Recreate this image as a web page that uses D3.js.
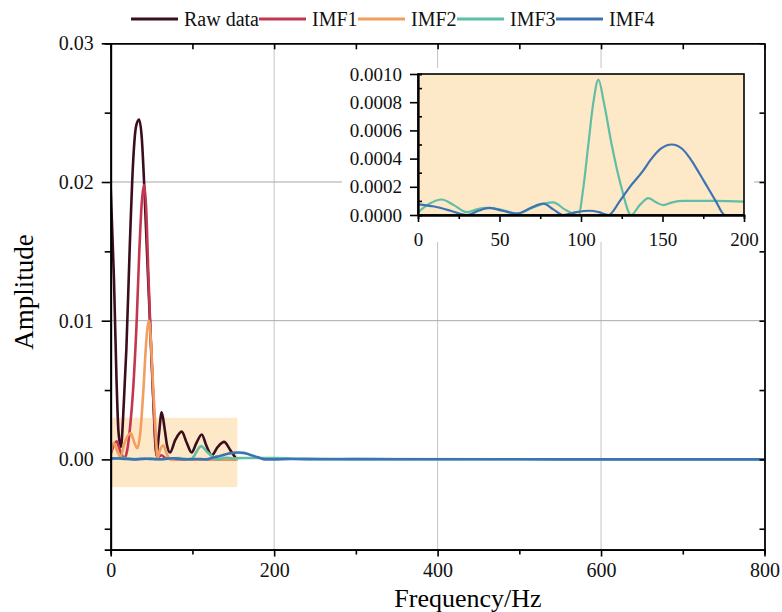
<!DOCTYPE html>
<html>
<head>
	<title> spectrum chart </title>
	<script src="https://d3js.org/d3.v7.min.js"></script>
	<style> body { margin: 0; background: white; } </style>
</head>
<body>
	<svg id="chart"></svg>
	<script type="text/javascript">

		// values: [frequency Hz, amplitude]
		const seriesNames = ["Raw data", "IMF1", "IMF2", "IMF3", "IMF4"];

		const rawData = [[0, 0.0196], [4, 0.013], [7, 0.006], [9.5, 0.002], [12.5, 0.0009], [16, 0.004], [19.2, 0.008],
			[23.3, 0.0153], [27.4, 0.0214], [31, 0.024], [34.7, 0.0245], [38, 0.0232], [41, 0.0198], [44.5, 0.0148],
			[48, 0.01], [52, 0.0045], [56, 0.0003], [59, 0.0018], [62.4, 0.0034], [66, 0.0022], [69, 0.001], [72.6, 0.0005],
			[79, 0.0014], [86.9, 0.002], [93, 0.0012], [99, 0.0005], [105, 0.0012], [111.4, 0.0018], [117, 0.001],
			[123.7, 0.0003], [131, 0.0009], [138.7, 0.00126], [146, 0.0007], [154, 0.0]];

		const imf1Data = [[0, 0.0004], [3, 0.0009], [7.3, 0.0013], [10, 0.0009], [13, 0.0004], [17, 0.0001], [20, 0.0006],
			[24, 0.0025], [27.4, 0.005], [31.8, 0.01], [35, 0.015], [38, 0.0185], [40.8, 0.0198], [43.5, 0.018],
			[46, 0.0135], [48.5, 0.0095], [52, 0.0045], [57, 0.0001], [62, 0.0003], [67, 0.0001], [80, 0.0], [155, 0.0]];

		const imf2Data = [[0, 0.0004], [4, 0.0012], [8, 0.0006], [12, 0.0002], [17, 0.0012], [24.5, 0.0019], [29, 0.0012],
			[32.6, 0.0008], [36, 0.0018], [40, 0.005], [43.5, 0.0085], [46.9, 0.01], [49.5, 0.0082], [52.2, 0.005],
			[55, 0.002], [57.5, 0.0001], [60.5, 0.0007], [64.5, 0.001], [68, 0.0005], [72.6, 0.0], [155, 0.0]];

		const imf3Data = [[0, 0.00002], [7, 0.00008], [14.5, 0.00011], [22, 0.00007], [29.9, 0.00002], [36, 0.00004],
			[42.1, 0.00005], [50, 0.00004], [61, 0.00001], [70, 0.00005], [77, 0.00008], [83, 0.00009], [90, 0.00004],
			[98.4, 0.0], [101.5, 0.0002], [104.5, 0.0005], [107.6, 0.0008], [110.7, 0.00096], [114, 0.0008],
			[118.8, 0.0005], [124.7, 0.0002], [130.8, 0.0], [136, 0.00007], [141.4, 0.00012], [146, 0.00009],
			[150.6, 0.00007], [156, 0.00009], [163, 0.0001], [180, 0.0001], [200, 0.000095], [240, 0.00004],
			[300, 0.00002], [800, 0.00001]];

		const imf4Data = [[0, 0.000076], [10, 0.00006], [20, 0.00003], [30, 0.0], [37, 0.00003], [44, 0.00005],
			[52, 0.00003], [61, 0.00001], [69, 0.00005], [77, 0.00008], [83, 0.00004], [89, 0.0], [97, 0.00002],
			[105.5, 0.00003], [111, 0.00002], [116.8, 0.0], [123.9, 0.0001], [130, 0.0002], [137.2, 0.0003],
			[143.3, 0.0004], [149, 0.00047], [155.6, 0.0005], [162, 0.00047], [167, 0.0004], [172.4, 0.0003],
			[177.5, 0.0002], [182.6, 0.0001], [188.3, 0.0], [200, 0.0], [220, 0.00003], [260, 0.00001],
			[300, 0.00002], [400, 0.00001], [500, 0.00001], [600, 0.0], [800, 0.0]];

		const xTicks = [0, 200, 400, 600, 800];
		const xMinorTicks = [100, 300, 500, 700];
		const yTicks = [0, 0.01, 0.02, 0.03];
		const yMinorTicks = [-0.005, 0.005, 0.015, 0.025];
		const yRange = [-0.0065, 0.03];
		const zoomFreq = [0, 155];
		const zoomAmp = [-0.002, 0.003];

		const insetXTicks = [0, 50, 100, 150, 200];
		const insetXMinor = [25, 75, 125, 175];
		const insetYTicks = [0, 0.0002, 0.0004, 0.0006, 0.0008, 0.001];
		const insetYMinor = [0.0001, 0.0003, 0.0005, 0.0007, 0.0009];

		const colors = ["#3a0d1f", "#c4364f", "#f29e5e", "#5fbea6", "#3c74b2"];
		const font = "'Liberation Serif', 'Times New Roman', serif";

		const w = 782;
		const h = 612;
		const svg = d3.select("#chart").attr("width", w).attr("height", h);

		svg.append("rect").attr("width", w).attr("height", h).style("fill", "white");

		// main scales (0.001 = 13.9 px)
		const x_scale = d3.scaleLinear().domain([0, 800]).range([110.7, 764.5]);
		const y_scale = d3.scaleLinear().domain(yRange).range([459.2 - yRange[0] * 13900, 43.3]);
		const yBottom = y_scale(yRange[0]);
		const yTop = y_scale(yRange[1]);

		const defs = svg.append("defs");
		defs.append("clipPath").attr("id", "mainClip").append("rect")
			.attr("x", x_scale(0)).attr("y", yTop)
			.attr("width", x_scale(800) - x_scale(0)).attr("height", yBottom - yTop);

		// grid
		svg.append("g").selectAll("line").data([200, 400, 600]).join("line")
			.attr("x1", d => x_scale(d)).attr("x2", d => x_scale(d))
			.attr("y1", yTop).attr("y2", yBottom)
			.style("stroke", "#c4c4c4").style("stroke-width", 1);
		svg.append("g").selectAll("line").data([0.01, 0.02]).join("line")
			.attr("x1", x_scale(0)).attr("x2", x_scale(800))
			.attr("y1", d => y_scale(d)).attr("y2", d => y_scale(d))
			.style("stroke", "#a8a8a8").style("stroke-width", 1);

		// zoom region
		svg.append("rect")
			.attr("x", x_scale(zoomFreq[0])).attr("y", y_scale(zoomAmp[1]))
			.attr("width", x_scale(zoomFreq[1]) - x_scale(zoomFreq[0]))
			.attr("height", y_scale(zoomAmp[0]) - y_scale(zoomAmp[1]))
			.style("fill", "#fde8c8");

		const allSeries = [rawData, imf1Data, imf2Data, imf3Data, imf4Data];

		const line = d3.line().x(d => x_scale(d[0])).y(d => y_scale(d[1])).curve(d3.curveMonotoneX);

		svg.append("g").attr("clip-path", "url(#mainClip)")
			.selectAll("path").data(allSeries).join("path")
			.attr("d", d => line(d))
			.style("fill", "none")
			.style("stroke", (d, i) => colors[i])
			.style("stroke-width", 2.6)
			.style("stroke-linejoin", "round");

		// axes
		function styleAxis(g, size) {
			g.selectAll(".domain").style("stroke", "black").style("stroke-width", 1.8);
			g.selectAll(".tick line").style("stroke", "black").style("stroke-width", 1.6);
			g.selectAll("text").style("font-family", font).style("font-size", size + "px").style("fill", "#111");
		}

		const xAxisBottom = svg.append("g").attr("transform", "translate(0," + yBottom + ")")
			.call(d3.axisBottom(x_scale).tickValues(xTicks).tickSize(7).tickSizeOuter(0).tickPadding(6));
		styleAxis(xAxisBottom, 20);
		const xAxisBottomMinor = svg.append("g").attr("transform", "translate(0," + yBottom + ")")
			.call(d3.axisBottom(x_scale).tickValues(xMinorTicks).tickSize(5).tickFormat(""));
		styleAxis(xAxisBottomMinor, 20);

		const xAxisTop = svg.append("g").attr("transform", "translate(0," + yTop + ")")
			.call(d3.axisTop(x_scale).tickValues(xTicks.concat(xMinorTicks)).tickSize(-6).tickSizeOuter(0).tickFormat(""));
		styleAxis(xAxisTop, 20);

		const yAxisLeft = svg.append("g").attr("transform", "translate(" + x_scale(0) + ",0)")
			.call(d3.axisLeft(y_scale).tickValues(yTicks).tickSize(9).tickSizeOuter(0).tickPadding(8).tickFormat(d3.format(".2f")));
		styleAxis(yAxisLeft, 20);
		const yAxisLeftMinor = svg.append("g").attr("transform", "translate(" + x_scale(0) + ",0)")
			.call(d3.axisLeft(y_scale).tickValues(yMinorTicks).tickSize(6).tickFormat(""));
		styleAxis(yAxisLeftMinor, 20);

		const yAxisRight = svg.append("g").attr("transform", "translate(" + x_scale(800) + ",0)")
			.call(d3.axisRight(y_scale).tickValues(yTicks.concat(yMinorTicks)).tickSize(-5).tickSizeOuter(0).tickFormat(""));
		styleAxis(yAxisRight, 20);

		// axis titles
		svg.append("text").attr("x", 468).attr("y", 607)
			.attr("text-anchor", "middle").style("font-family", font).style("font-size", "26px")
			.text("Frequency/Hz");
		svg.append("text").attr("transform", "translate(33,292) rotate(-90)")
			.attr("text-anchor", "middle").style("font-family", font).style("font-size", "27px")
			.text("Amplitude");

		// inset
		const ix = d3.scaleLinear().domain([0, 200]).range([418, 744]);
		const iy = d3.scaleLinear().domain([0, 0.001]).range([215, 74]);

		svg.append("rect").attr("x", 342).attr("y", 68).attr("width", 412).attr("height", 174).style("fill", "white");
		svg.append("rect").attr("x", ix(0)).attr("y", iy(0.001))
			.attr("width", ix(200) - ix(0)).attr("height", iy(0) - iy(0.001))
			.style("fill", "#fde8c8");

		defs.append("clipPath").attr("id", "insetClip").append("rect")
			.attr("x", ix(0)).attr("y", iy(0.001))
			.attr("width", ix(200) - ix(0)).attr("height", iy(0) - iy(0.001));

		const iline = d3.line().x(d => ix(d[0])).y(d => iy(d[1])).curve(d3.curveMonotoneX);

		svg.append("g").attr("clip-path", "url(#insetClip)")
			.selectAll("path").data([imf3Data, imf4Data]).join("path")
			.attr("d", d => iline(d))
			.style("fill", "none")
			.style("stroke", (d, i) => colors[i + 3])
			.style("stroke-width", 2.2);

		svg.append("rect").attr("x", ix(0)).attr("y", iy(0.001))
			.attr("width", ix(200) - ix(0)).attr("height", iy(0) - iy(0.001))
			.style("fill", "none").style("stroke", "black").style("stroke-width", 1.6);

		const insetBottom = svg.append("g").attr("transform", "translate(0," + iy(0) + ")")
			.call(d3.axisBottom(ix).tickValues(insetXTicks).tickSize(7).tickSizeOuter(0).tickPadding(11));
		styleAxis(insetBottom, 19);
		const insetBottomMinor = svg.append("g").attr("transform", "translate(0," + iy(0) + ")")
			.call(d3.axisBottom(ix).tickValues(insetXMinor).tickSize(4).tickFormat(""));
		styleAxis(insetBottomMinor, 19);
		const insetLeft = svg.append("g").attr("transform", "translate(" + ix(0) + ",0)")
			.call(d3.axisLeft(iy).tickValues(insetYTicks).tickSize(8).tickSizeOuter(0).tickPadding(8).tickFormat(d3.format(".4f")));
		styleAxis(insetLeft, 19);
		const insetLeftMinor = svg.append("g").attr("transform", "translate(" + ix(0) + ",0)")
			.call(d3.axisLeft(iy).tickValues(insetYMinor).tickSize(-4).tickFormat(""));
		styleAxis(insetLeftMinor, 19);

		// legend
		const legendX = [131, 259, 358, 457, 556];
		const legend = svg.append("g");
		seriesNames.forEach(function(name, i) {
			legend.append("line").attr("x1", legendX[i]).attr("x2", legendX[i] + 47)
				.attr("y1", 19).attr("y2", 19)
				.style("stroke", colors[i]).style("stroke-width", 3);
			legend.append("text").attr("x", legendX[i] + 53).attr("y", 26)
				.style("font-family", font).style("font-size", "20px").style("fill", "#111")
				.text(name);
		});

	</script>
</body>
</html>
